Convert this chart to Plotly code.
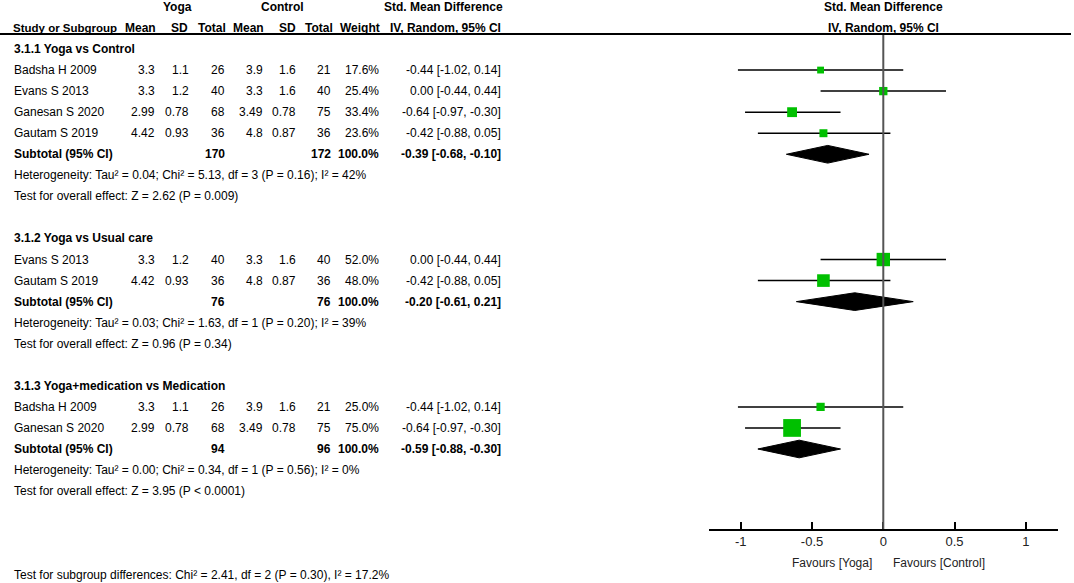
import plotly.graph_objects as go

# Study rows, grouped by subgroup index
groups = ["3.1.1 Yoga vs Control", "3.1.2 Yoga vs Usual care", "3.1.3 Yoga+medication vs Medication"]
study_group = [0, 0, 0, 0, 1, 1, 2, 2]
study_names = ["Badsha H 2009", "Evans S 2013", "Ganesan S 2020", "Gautam S 2019",
               "Evans S 2013", "Gautam S 2019",
               "Badsha H 2009", "Ganesan S 2020"]
yoga_mean = [3.3, 3.3, 2.99, 4.42, 3.3, 4.42, 3.3, 2.99]
yoga_sd = [1.1, 1.2, 0.78, 0.93, 1.2, 0.93, 1.1, 0.78]
yoga_n = [26, 40, 68, 36, 40, 36, 26, 68]
ctrl_mean = [3.9, 3.3, 3.49, 4.8, 3.3, 4.8, 3.9, 3.49]
ctrl_sd = [1.6, 1.6, 0.78, 0.87, 1.6, 0.87, 1.6, 0.78]
ctrl_n = [21, 40, 75, 36, 40, 36, 21, 75]
weights = [17.6, 25.4, 33.4, 23.6, 52.0, 48.0, 25.0, 75.0]
smd = [-0.44, 0.00, -0.64, -0.42, 0.00, -0.42, -0.44, -0.64]
ci_lo = [-1.02, -0.44, -0.97, -0.88, -0.44, -0.88, -1.02, -0.97]
ci_hi = [0.14, 0.44, -0.30, 0.05, 0.44, 0.05, 0.14, -0.30]

# Subtotals per subgroup
sub_yoga_n = [170, 76, 94]
sub_ctrl_n = [172, 76, 96]
sub_smd = [-0.39, -0.20, -0.59]
sub_lo = [-0.68, -0.61, -0.88]
sub_hi = [-0.10, 0.21, -0.30]
heterogeneity = [
    "Heterogeneity: Tau² = 0.04; Chi² = 5.13, df = 3 (P = 0.16); I² = 42%",
    "Heterogeneity: Tau² = 0.03; Chi² = 1.63, df = 1 (P = 0.20); I² = 39%",
    "Heterogeneity: Tau² = 0.00; Chi² = 0.34, df = 1 (P = 0.56); I² = 0%",
]
overall = [
    "Test for overall effect: Z = 2.62 (P = 0.009)",
    "Test for overall effect: Z = 0.96 (P = 0.34)",
    "Test for overall effect: Z = 3.95 (P < 0.0001)",
]
subgroup_test = "Test for subgroup differences: Chi² = 2.41, df = 2 (P = 0.30), I² = 17.2%"
tick_vals = [-1, -0.5, 0, 0.5, 1]
tick_text = ["-1", "-0.5", "0", "0.5", "1"]

W, H = 1074, 583
FONT = "Arial Narrow, Liberation Sans, Arial, sans-serif"
FS = 12
GREEN = "#00c000"

def ci_text(e, lo, hi):
    return f"{e:.2f} [{lo:.2f}, {hi:.2f}]"

# work out which row each line of the table sits on
group_rows, study_rows, sub_rows = [], [], []
r = 0
for g in range(len(groups)):
    group_rows.append(r)
    for i, sg in enumerate(study_group):
        if sg == g:
            r += 1
            study_rows.append(r)
    r += 1
    sub_rows.append(r)
    r += 4

annotations = []

def txt(x_px, y, text, anchor="right", bold=False, yref="y", size=FS):
    if bold:
        text = "<b>" + text + "</b>"
    annotations.append(dict(x=x_px / W, xref="paper", y=y, yref=yref, text=text,
                            xanchor=anchor, yanchor="middle", showarrow=False,
                            font=dict(family=FONT, size=size, color="black")))

# column headers
txt(177, -2, "Yoga", "center", True)
txt(282, -2, "Control", "center", True)
txt(443, -2, "Std. Mean Difference", "center", True)
txt(883, -2, "Std. Mean Difference", "center", True)
txt(11, -1, "Study or Subgroup", "left", True, size=11.5)
for xp, lab in [(158, "Mean"), (190, "SD"), (228, "Total"), (266, "Mean"), (298, "SD"),
                (335, "Total"), (382, "Weight"), (503, "IV, Random, 95% CI")]:
    txt(xp, -1, lab, "right", True)
txt(883, -1, "IV, Random, 95% CI", "center", True)

# study lines
for i, row in enumerate(study_rows):
    txt(12, row, study_names[i], "left")
    txt(157, row, str(yoga_mean[i]))
    txt(191, row, str(yoga_sd[i]))
    txt(227, row, str(yoga_n[i]))
    txt(265, row, str(ctrl_mean[i]))
    txt(298, row, str(ctrl_sd[i]))
    txt(333, row, str(ctrl_n[i]))
    txt(381, row, f"{weights[i]:.1f}%")
    txt(503, row, ci_text(smd[i], ci_lo[i], ci_hi[i]))

# subgroup lines
for g in range(len(groups)):
    txt(12, group_rows[g], groups[g], "left", True)
    row = sub_rows[g]
    txt(12, row, "Subtotal (95% CI)", "left", True)
    txt(227, row, str(sub_yoga_n[g]), bold=True)
    txt(333, row, str(sub_ctrl_n[g]), bold=True)
    txt(381, row, "100.0%", bold=True)
    txt(503, row, ci_text(sub_smd[g], sub_lo[g], sub_hi[g]), bold=True)
    txt(12, row + 1, heterogeneity[g], "left")
    txt(12, row + 2, overall[g], "left")

txt(12, (H - 575) / H, subgroup_test, "left", yref="paper")

fig = go.Figure()

# confidence interval whiskers
wx, wy = [], []
for i, row in enumerate(study_rows):
    wx += [ci_lo[i], ci_hi[i], None]
    wy += [row, row, None]
fig.add_trace(go.Scatter(x=wx, y=wy, mode="lines", line=dict(color="black", width=1.5),
                         hoverinfo="skip", showlegend=False))

# weight squares
fig.add_trace(go.Scatter(x=smd, y=study_rows, mode="markers",
                         marker=dict(symbol="square", color=GREEN, opacity=1,
                                     size=[3.5 + 0.19 * w for w in weights],
                                     line=dict(width=0)),
                         showlegend=False))

# subtotal diamonds
for g in range(len(groups)):
    row = sub_rows[g]
    fig.add_trace(go.Scatter(x=[sub_lo[g], sub_smd[g], sub_hi[g], sub_smd[g], sub_lo[g]],
                             y=[row, row - 0.42, row, row + 0.42, row],
                             mode="lines", fill="toself", fillcolor="black",
                             line=dict(color="black", width=1), showlegend=False))

y_top = -0.71
y_bottom = 22.8

fig.add_shape(type="line", xref="x", yref="y", x0=0, x1=0, y0=y_top, y1=y_bottom,
              line=dict(color="#555555", width=2))
fig.add_shape(type="line", xref="paper", yref="y", x0=0, x1=1071 / W, y0=y_top, y1=y_top,
              line=dict(color="black", width=2))

annotations.append(dict(x=0, xref="x", y=(H - 563) / H, yref="paper", text="Favours [Yoga]",
                        xanchor="right", yanchor="middle", xshift=-9, showarrow=False,
                        font=dict(family=FONT, size=FS, color="#222222")))
annotations.append(dict(x=0, xref="x", y=(H - 563) / H, yref="paper", text="Favours [Control]",
                        xanchor="left", yanchor="middle", xshift=8, showarrow=False,
                        font=dict(family=FONT, size=FS, color="#222222")))

fig.update_layout(
    width=W, height=H,
    margin=dict(l=0, r=0, t=0, b=0),
    paper_bgcolor="white", plot_bgcolor="white",
    showlegend=False,
    xaxis=dict(domain=[709 / W, 1058 / W], range=[-1.223, 1.226],
               showgrid=False, zeroline=False, showline=True, linecolor="black", linewidth=1.5,
               ticks="inside", ticklen=7, tickwidth=1.5, tickcolor="black",
               tickvals=tick_vals, ticktext=tick_text,
               tickfont=dict(family=FONT, size=FS + 1, color="#222222")),
    yaxis=dict(domain=[(H - 529) / H, 1], range=[y_bottom, -2.328],
               visible=False, showgrid=False, zeroline=False),
    annotations=annotations,
)

# drop the page's default body margin so the figure fills the window
fig.write_html("out.html", config={"displayModeBar": False},
               post_script="document.body.style.margin='0px';")
